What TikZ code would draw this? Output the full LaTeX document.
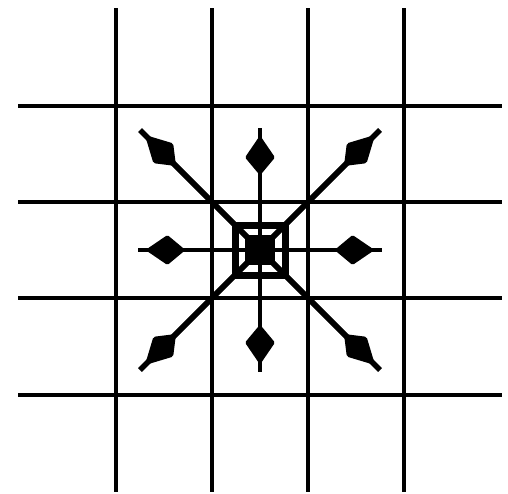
\documentclass[tikz,border=0pt]{standalone}
\usepackage{tikz}
\usetikzlibrary{arrows.meta}

\begin{document}
\begin{tikzpicture}[
		x=1pt, y=-1pt,
		gridline/.style={line width=4.5pt},
		spoke/.style={line width=4pt},
		slant/.style={line width=5.5pt},
		axishead/.style={spoke, -{Kite[length=40pt, width=30pt, inset=18pt, round]}, shorten >=9pt},
		diaghead/.style={slant, -{Kite[length=44pt, width=28pt, inset=18pt, round]}, shorten >=10pt},
		hubbox/.style={draw, line width=7pt, minimum size=50pt, inner sep=0pt},
		corebox/.style={fill, minimum size=30pt, inner sep=0pt}]
		\useasboundingbox (0,0) rectangle (508,493);

		% grid
		\draw[gridline] (18,106) -- (502,106);
		\draw[gridline] (18,202) -- (502,202);
		\draw[gridline] (18,298) -- (502,298);
		\draw[gridline] (18,395) -- (502,395);
		\draw[gridline] (116,8) -- (116,492);
		\draw[gridline] (212,8) -- (212,492);
		\draw[gridline] (308,8) -- (308,492);
		\draw[gridline] (404,8) -- (404,492);

		% centre and spoke ends
		\node[hubbox] (hub) at (260,250) {};
		\node[corebox] (core) at (260,250) {};
		\coordinate (n) at (260,128);
		\coordinate (s) at (260,372);
		\coordinate (w) at (138,250);
		\coordinate (e) at (382,250);
		\coordinate (nw) at (140,130);
		\coordinate (ne) at (380,130);
		\coordinate (sw) at (140,370);
		\coordinate (se) at (380,370);

		% spokes
		\draw[spoke] (core.center) -- (n);
		\draw[spoke] (core.center) -- (s);
		\draw[spoke] (core.center) -- (w);
		\draw[spoke] (core.center) -- (e);
		\draw[slant] (core.center) -- (nw);
		\draw[slant] (core.center) -- (ne);
		\draw[slant] (core.center) -- (sw);
		\draw[slant] (core.center) -- (se);

		% heads
		\draw[axishead] (core.center) -- (n);
		\draw[axishead] (core.center) -- (s);
		\draw[axishead] (core.center) -- (w);
		\draw[axishead] (core.center) -- (e);
		\draw[diaghead] (core.center) -- (nw);
		\draw[diaghead] (core.center) -- (ne);
		\draw[diaghead] (core.center) -- (sw);
		\draw[diaghead] (core.center) -- (se);
	\end{tikzpicture}
\end{document}
